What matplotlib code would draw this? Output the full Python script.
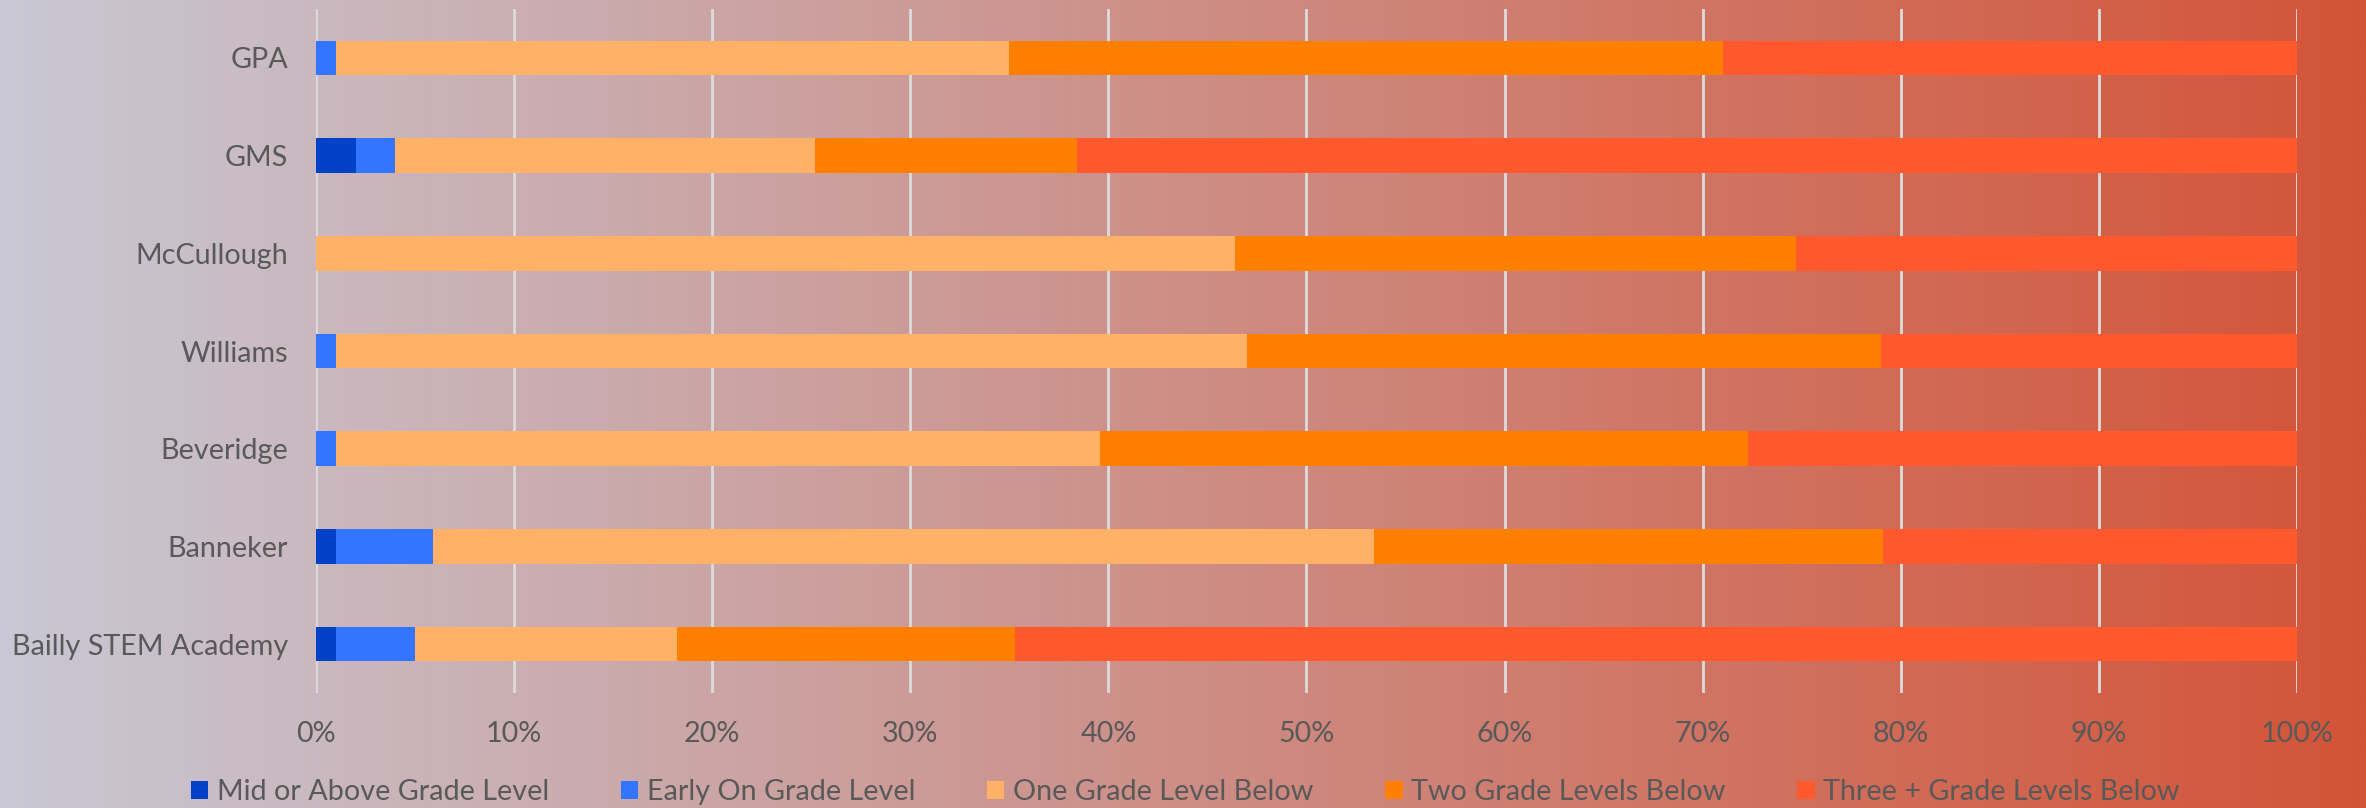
import numpy as np
import matplotlib
matplotlib.use("Agg")
import matplotlib.pyplot as plt
from matplotlib.ticker import PercentFormatter

plt.rcParams['font.family'] = ['Lato', 'DejaVu Sans']

schools = ["GPA", "GMS", "McCullough", "Williams", "Beveridge", "Banneker", "Bailly STEM Academy"]
series_names = ["Mid or Above Grade Level", "Early On Grade Level", "One Grade Level Below",
                "Two Grade Levels Below", "Three + Grade Levels Below"]
mid_above = [0.0, 2.0, 0.0, 0.0, 0.0, 1.0, 1.0]
early_on = [1.0, 2.0, 0.0, 1.0, 1.0, 4.9, 4.0]
one_below = [34.0, 21.2, 46.4, 46.0, 38.6, 47.5, 13.2]
two_below = [36.0, 13.2, 28.3, 32.0, 32.7, 25.7, 17.1]
three_below = [29.0, 61.6, 25.3, 21.0, 27.7, 20.9, 64.7]
colors = ["#0041C8", "#3375FF", "#FFB168", "#FF8000", "#FF592D"]
xticks = [0, 10, 20, 30, 40, 50, 60, 70, 80, 90, 100]

W, H = 2366, 808
fig = plt.figure(figsize=(W / 100, H / 100), dpi=100)

# background gradient
bg = fig.add_axes([0, 0, 1, 1], zorder=-10)
left = np.array([200, 200, 212]) / 255
right = np.array([211, 84, 56]) / 255
t = np.linspace(0, 1, 512)[None, :, None]
grad = left[None, None, :] * (1 - t) + right[None, None, :] * t
bg.imshow(grad, aspect='auto', extent=[0, 1, 0, 1], interpolation='bilinear')
bg.axis('off')

ax = fig.add_axes([316 / W, 1 - 693 / H, (2297 - 316) / W, (693 - 9) / H])
ax.patch.set_alpha(0)

data = [mid_above, early_on, one_below, two_below, three_below]
y = np.arange(len(schools))
cum = np.zeros(len(schools))
for vals, name, c in zip(data, series_names, colors):
    v = np.array(vals)
    ax.barh(y, v, left=cum, height=0.355, color=c, label=name, zorder=3)
    cum += v

ax.set_ylim(len(schools) - 0.5, -0.5)
ax.set_xlim(0, 100)
ax.set_yticks(y)
ax.set_yticklabels(schools)
ax.set_xticks(xticks)
ax.xaxis.set_major_formatter(PercentFormatter(decimals=0))
ax.grid(axis='x', color='#DCDCDC', linewidth=2, zorder=0)
ax.set_axisbelow(True)
for s in ax.spines.values():
    s.set_visible(False)
ax.tick_params(axis='both', length=0, labelsize=20.7, labelcolor='#595959')
ax.tick_params(axis='x', pad=20)
ax.tick_params(axis='y', pad=20)

leg = fig.legend(loc='center', bbox_to_anchor=(0.501, 1 - 792 / H), ncol=5, frameon=False,
                 fontsize=20.7, handlelength=0.6, handleheight=0.6, handletextpad=0.3,
                 columnspacing=2.5)
for txt in leg.get_texts():
    txt.set_color('#595959')

fig.savefig("out.png", dpi=100)
